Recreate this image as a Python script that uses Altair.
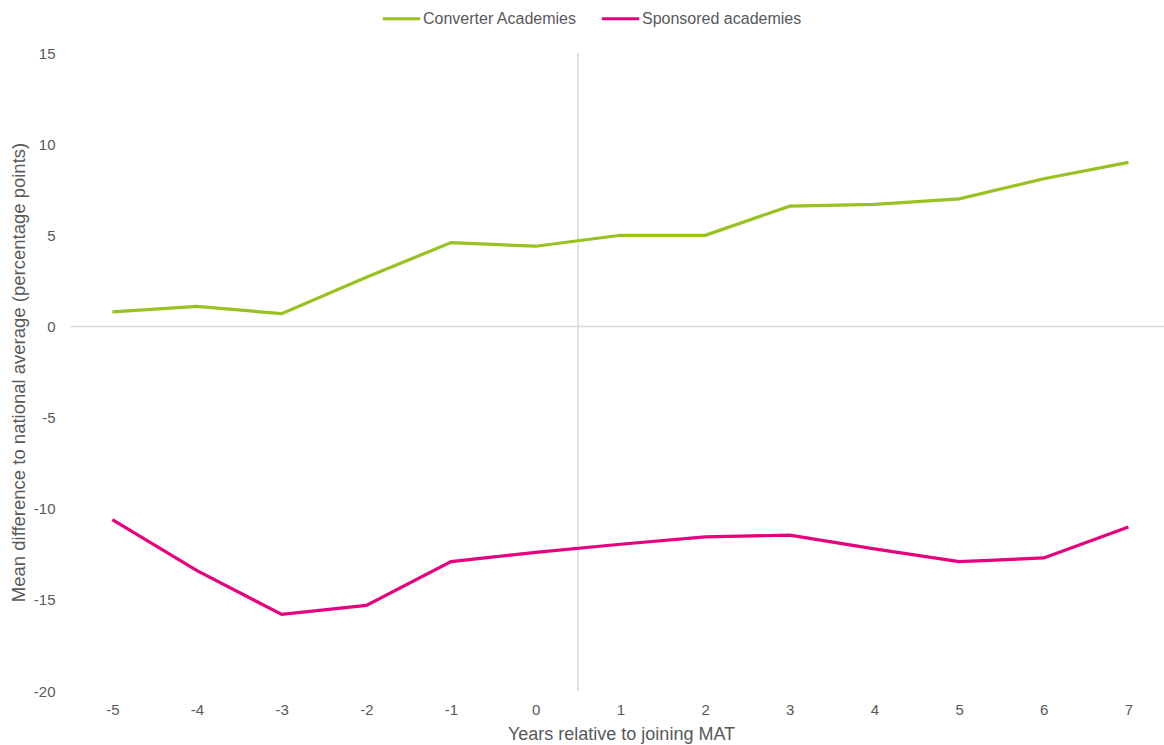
import altair as alt
import pandas as pd

years = [-5, -4, -3, -2, -1, 0, 1, 2, 3, 4, 5, 6, 7]
converter = [0.8, 1.1, 0.7, 2.7, 4.6, 4.4, 5.0, 5.0, 6.6, 6.7, 7.0, 8.1, 9.0]
sponsored = [-10.6, -13.4, -15.8, -15.3, -12.9, -12.4, -11.95, -11.55, -11.45, -12.2, -12.9, -12.7, -11.0]
series_names = ["Converter Academies", "Sponsored academies"]
colors = ["#97c21f", "#e6007e"]
x_ticks = years
y_ticks = [-20, -15, -10, -5, 0, 5, 10, 15]
join_marker = [0.5]
zero_line = [0]

rows = []
for y, c, s in zip(years, converter, sponsored):
    rows.append({"year": y, "value": c, "series": series_names[0]})
    rows.append({"year": y, "value": s, "series": series_names[1]})
df = pd.DataFrame(rows)

FONT = "Liberation Sans"
GREY = "#595959"

x_scale = alt.Scale(domain=[-5.5, 7.42], nice=False, zero=False)
y_scale = alt.Scale(domain=[-20, 15], nice=False)

vline = alt.Chart(pd.DataFrame({"x": join_marker})).mark_rule(
    color="#d9d9d9", strokeWidth=1.5
).encode(x=alt.X("x:Q", scale=x_scale), y=alt.value(0), y2=alt.value(638))

hline = alt.Chart(pd.DataFrame({"y": zero_line})).mark_rule(
    color="#d9d9d9", strokeWidth=1.5
).encode(y=alt.Y("y:Q", scale=y_scale), x=alt.value(0), x2=alt.value(1094))

lines = alt.Chart(df).mark_line(strokeWidth=3.2).encode(
    x=alt.X(
        "year:Q",
        scale=x_scale,
        axis=alt.Axis(
            values=x_ticks,
            labelExpr="'' + datum.value",
            title="Years relative to joining MAT",
            grid=False,
            domain=False,
            ticks=False,
            labelPadding=11,
            labelFontSize=15,
            labelColor=GREY,
            labelFont=FONT,
            titleFont=FONT,
            titleFontSize=18,
            titleFontWeight="normal",
            titleColor=GREY,
            titlePadding=8,
            titleX=551,
        ),
    ),
    y=alt.Y(
        "value:Q",
        scale=y_scale,
        axis=alt.Axis(
            values=y_ticks,
            labelExpr="'' + datum.value",
            title="Mean difference to national average (percentage points)",
            grid=False,
            domain=False,
            ticks=False,
            labelPadding=15,
            labelFontSize=15,
            labelColor=GREY,
            labelFont=FONT,
            titleFont=FONT,
            titleFontSize=18.5,
            titleFontWeight="normal",
            titleColor=GREY,
            titleX=-52,
            titleBaseline="middle",
        ),
    ),
    color=alt.Color(
        "series:N",
        scale=alt.Scale(domain=series_names, range=colors),
        legend=alt.Legend(
            title=None,
            orient="none",
            legendX=311,
            legendY=-55,
            direction="horizontal",
            symbolType="stroke",
            symbolSize=1400,
            symbolStrokeWidth=3.2,
            labelFont=FONT,
            labelFontSize=16,
            labelColor=GREY,
            labelOffset=1,
            columnPadding=18,
        ),
    ),
)

chart = (
    alt.layer(vline, hline, lines)
    .properties(
        width=1094,
        height=638,
        autosize=alt.AutoSizeParams(type="none"),
        padding={"left": 70, "top": 53, "right": 0, "bottom": 54},
        background="white",
    )
    .configure_view(stroke=None)
)

chart.save("out.html", embed_options={"renderer": "svg", "actions": False})
